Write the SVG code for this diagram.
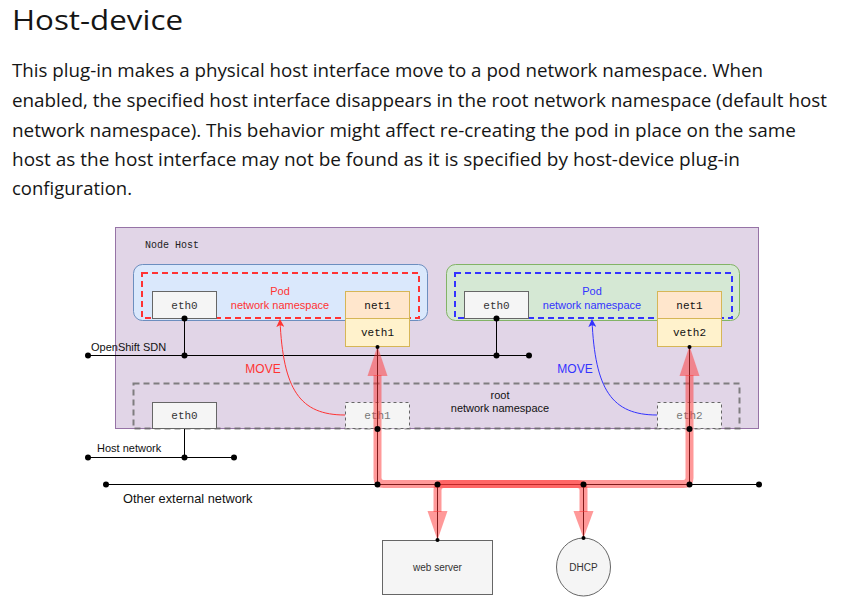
<svg xmlns="http://www.w3.org/2000/svg" width="842" height="608" viewBox="0 0 842 608">
<style>
.title{font-family:"Open Sans","Noto Sans",sans-serif;font-size:28px;fill:#151515}
.para{font-family:"Open Sans","Noto Sans",sans-serif;font-size:19px;fill:#151515}
.mono{font-family:"Liberation Mono","DejaVu Sans Mono",monospace;font-size:11px;fill:#333;text-anchor:middle}
.lbl{font-family:"Liberation Sans",Arial,sans-serif;font-size:11px;fill:#111}
.ctr{text-anchor:middle}
.box{fill:#f5f5f5;stroke:#666;stroke-width:1}
.dbox{fill:#f5f5f5;stroke:#666;stroke-width:1;stroke-dasharray:3 3}
.wire{stroke:#000;stroke-width:1;fill:none}
.hl{stroke:#ff3333;stroke-opacity:0.5;stroke-width:8;fill:none;stroke-linejoin:round}
.ah{fill:#ff3333;fill-opacity:0.5}
.dot{fill:#000}
</style>
<defs>
<marker id="arrR" markerWidth="8" markerHeight="8" refX="7" refY="4" orient="auto" markerUnits="userSpaceOnUse">
<path d="M0,0 L8,4 L0,8 L2,4 Z" fill="#ff3333"/>
</marker>
<marker id="arrB" markerWidth="8" markerHeight="8" refX="7" refY="4" orient="auto" markerUnits="userSpaceOnUse">
<path d="M0,0 L8,4 L0,8 L2,4 Z" fill="#3333ff"/>
</marker>
</defs>
<rect width="842" height="608" fill="#fff"/>
<g id="text-header">
<text class="title" x="12" y="30" textLength="171" lengthAdjust="spacingAndGlyphs">Host-device</text>
<text class="para" x="12" y="77" textLength="751" lengthAdjust="spacingAndGlyphs">This plug-in makes a physical host interface move to a pod network namespace. When</text>
<text class="para" x="12" y="107" textLength="815" lengthAdjust="spacingAndGlyphs">enabled, the specified host interface disappears in the root network namespace (default host</text>
<text class="para" x="12" y="137" textLength="784" lengthAdjust="spacingAndGlyphs">network namespace). This behavior might affect re-creating the pod in place on the same</text>
<text class="para" x="12" y="166" textLength="728" lengthAdjust="spacingAndGlyphs">host as the host interface may not be found as it is specified by host-device plug-in</text>
<text class="para" x="12" y="195" textLength="120" lengthAdjust="spacingAndGlyphs">configuration.</text>
</g>
<g id="node-host">
<rect x="115.5" y="227.5" width="643" height="201" fill="#e1d5e7" stroke="#9673a6"/>
<text x="145" y="248" class="mono" style="text-anchor:start;font-size:10px;fill:#222">Node Host</text>
</g>
<g id="pod1">
<rect x="133.5" y="264.5" width="294" height="56" rx="9" fill="#dae8fc" stroke="#6c8ebf"/>
<rect x="142" y="273" width="277" height="45" fill="none" stroke="#ff3333" stroke-width="2" stroke-dasharray="6 4"/>
<text x="280" y="295" class="lbl ctr" style="fill:#ff3333">Pod</text>
<text x="280" y="309" class="lbl ctr" style="fill:#ff3333">network namespace</text>
</g>
<g id="pod2">
<rect x="446.5" y="264.5" width="293" height="56" rx="9" fill="#d5e8d4" stroke="#82b366"/>
<rect x="455" y="273" width="277" height="45" fill="none" stroke="#3333ff" stroke-width="2" stroke-dasharray="6 4"/>
<text x="592" y="295" class="lbl ctr" style="fill:#3333ff">Pod</text>
<text x="592" y="309" class="lbl ctr" style="fill:#3333ff">network namespace</text>
</g>
<g id="pod1-eth0"><rect class="box" x="152.5" y="291.5" width="64" height="27"/><text class="mono" x="184.5" y="309">eth0</text></g>
<g id="pod2-eth0"><rect class="box" x="464.5" y="291.5" width="64" height="27"/><text class="mono" x="496.5" y="309">eth0</text></g>
<g id="pod1-net1"><rect x="345.5" y="291.5" width="64" height="27" fill="#ffe6cc" stroke="#d6b656"/><text class="mono" x="377.5" y="309" style="fill:#111">net1</text></g>
<g id="pod1-veth1"><rect x="345.5" y="318.5" width="64" height="28" fill="#fff2cc" stroke="#d6b656"/><text class="mono" x="377.5" y="336" style="fill:#111">veth1</text></g>
<g id="pod2-net1"><rect x="657.5" y="291.5" width="64" height="27" fill="#ffe6cc" stroke="#d6b656"/><text class="mono" x="689.5" y="309" style="fill:#111">net1</text></g>
<g id="pod2-veth2"><rect x="657.5" y="318.5" width="64" height="28" fill="#fff2cc" stroke="#d6b656"/><text class="mono" x="689.5" y="336" style="fill:#111">veth2</text></g>
<g id="root-ns">
<rect x="133.5" y="383.5" width="606" height="45" fill="none" stroke="#666" stroke-width="2" stroke-dasharray="6 4" stroke-opacity="0.8"/>
<text x="500" y="399" class="lbl ctr">root</text>
<text x="500" y="412" class="lbl ctr">network namespace</text>
</g>
<g id="root-eth0"><rect class="box" x="152.5" y="402.5" width="64" height="26"/><text class="mono" x="184.5" y="419">eth0</text></g>
<g id="root-eth1"><rect class="dbox" x="345.5" y="402.5" width="64" height="26"/><text class="mono" x="377.5" y="419" style="fill:#777">eth1</text></g>
<g id="root-eth2"><rect class="dbox" x="657.5" y="402.5" width="64" height="26"/><text class="mono" x="689.5" y="419" style="fill:#777">eth2</text></g>
<g id="web-server"><rect class="box" x="382.5" y="540.5" width="110" height="54"/><text class="lbl ctr" x="437.5" y="571" style="font-size:10px;fill:#333">web server</text></g>
<g id="dhcp"><ellipse cx="583.5" cy="567" rx="27" ry="29" fill="#f5f5f5" stroke="#666"/><text class="lbl ctr" x="583.5" y="571" style="font-size:10px;fill:#333">DHCP</text></g>
<g id="network-labels">
<text class="lbl" x="91" y="351">OpenShift SDN</text>
<text class="lbl" x="97" y="452">Host network</text>
<text class="lbl" x="123" y="503" style="font-size:12.8px">Other external network</text>
<text class="lbl ctr" x="263" y="373" style="font-size:12px;fill:#ff3333">MOVE</text>
<text class="lbl ctr" x="575" y="373" style="font-size:12px;fill:#3333ff">MOVE</text>
</g>
<g id="connectors">
<path class="wire" d="M88,355.5 H529"/>
<path class="wire" d="M184.5,318 V355"/>
<path class="wire" d="M496.5,318 V355"/>
<path class="wire" d="M88,457.5 H234"/>
<path class="wire" d="M184.5,429 V457"/>
<path class="wire" d="M106,484.5 H759"/>
<path class="wire" d="M377.5,346 V484"/>
<path class="wire" d="M689.5,346 V484"/>
<path class="wire" d="M437.5,484 V540"/>
<path class="wire" d="M583.5,484 V538"/>
<path d="M345,415 C300,415 283,390 280,320" fill="none" stroke="#ff3333" stroke-width="1" marker-end="url(#arrR)"/>
<path d="M657,415 C612,415 595,390 592,320" fill="none" stroke="#3333ff" stroke-width="1" marker-end="url(#arrB)"/>
<path class="hl" d="M377.5,375 V478 Q377.5,484 383.5,484 H577.5 Q583.5,484 583.5,490 V512"/>
<path class="hl" d="M689.5,375 V478 Q689.5,484 683.5,484 H443.5 Q437.5,484 437.5,490 V512"/>
<polygon class="ah" points="377.5,346 367.5,376 387.5,376"/>
<polygon class="ah" points="689.5,346 679.5,376 699.5,376"/>
<polygon class="ah" points="437.5,540 427.5,511 447.5,511"/>
<polygon class="ah" points="583.5,538 573.5,511 593.5,511"/>
<g class="dot">
<circle cx="88" cy="355.5" r="3"/><circle cx="184.5" cy="355.5" r="3"/><circle cx="496.5" cy="355.5" r="3"/><circle cx="529" cy="355.5" r="3"/>
<circle cx="184.5" cy="318.5" r="3"/><circle cx="496.5" cy="318.5" r="3"/>
<circle cx="88" cy="457.5" r="3"/><circle cx="184.5" cy="457.5" r="3"/><circle cx="234" cy="457.5" r="3"/>
<circle cx="106" cy="484.5" r="3"/><circle cx="377.5" cy="484.5" r="3"/><circle cx="437.5" cy="484.5" r="3"/><circle cx="583.5" cy="484.5" r="3"/><circle cx="689.5" cy="484.5" r="3"/><circle cx="759" cy="484.5" r="3"/>
<circle cx="377.5" cy="429" r="3"/><circle cx="689.5" cy="429" r="3"/>
<circle cx="377.5" cy="347" r="2"/><circle cx="689.5" cy="347" r="2"/>
<circle cx="437.5" cy="540" r="2"/><circle cx="583.5" cy="538" r="2"/>
</g>
</g>
</svg>
